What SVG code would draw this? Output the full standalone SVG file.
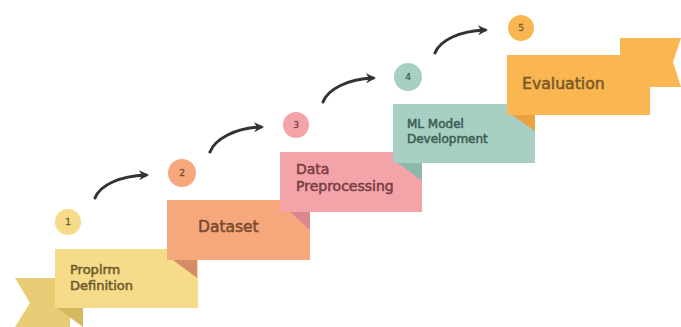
<svg xmlns="http://www.w3.org/2000/svg" width="681" height="327" viewBox="0 0 681 327">
<defs>
<marker id="ah" viewBox="0 0 10 10" refX="7" refY="5" markerWidth="10" markerHeight="10" markerUnits="userSpaceOnUse" orient="auto">
<path d="M0,0 L10,5 L0,10 L3,5 z" fill="#333"/>
</marker>
<style>
.lbl{font-family:"DejaVu Sans","Liberation Sans",sans-serif;stroke-width:0.55}
.num{font-family:"DejaVu Sans","Liberation Sans",sans-serif;font-size:9px;text-anchor:middle;stroke-width:0.3}
.arr{fill:none;stroke:#333;stroke-width:3;stroke-linecap:round}
</style>
</defs>
<rect width="681" height="327" fill="#fff"/>
<g id="step1">
<polygon points="15,278 70,278 70,327 15,327 30,303" fill="#E9CC76"/>
<rect x="55" y="249" width="143" height="59" fill="#F6DC8A"/>
<polygon points="57,308 83,308 83,327" fill="#D6B762"/>
<circle cx="68" cy="222" r="13" fill="#F6DC8A"/>
<text class="num" x="68" y="225" fill="#6E5B2B" stroke="#6E5B2B">1</text>
<text class="lbl" x="70" y="274" font-size="13" fill="#6E5B2B" stroke="#6E5B2B">Proplrm</text>
<text class="lbl" x="70" y="289.5" font-size="13" fill="#6E5B2B" stroke="#6E5B2B">Definition</text>
</g>
<g id="step2">
<rect x="167" y="200" width="143" height="60" fill="#F6A87C"/>
<polygon points="173,260 197,260 197,278" fill="#D68C66"/>
<circle cx="182" cy="173" r="14" fill="#F6A87C"/>
<text class="num" x="182" y="176" fill="#7A4B33" stroke="#7A4B33">2</text>
<text class="lbl" x="198" y="232" font-size="15.5" fill="#7A4B33" stroke="#7A4B33">Dataset</text>
</g>
<g id="step3">
<rect x="280" y="152" width="142" height="60" fill="#F4A3A8"/>
<polygon points="290,212 310,212 310,230" fill="#D9868F"/>
<circle cx="296" cy="125" r="13" fill="#F4A3A8"/>
<text class="num" x="296" y="128" fill="#7A3F45" stroke="#7A3F45">3</text>
<text class="lbl" x="296" y="173.5" font-size="14" fill="#7A3F45" stroke="#7A3F45">Data</text>
<text class="lbl" x="296" y="190.5" font-size="14" fill="#7A3F45" stroke="#7A3F45">Preprocessing</text>
</g>
<g id="step4">
<rect x="393" y="104" width="142" height="59" fill="#A8CFC4"/>
<polygon points="398,163 422,163 422,181" fill="#8DB8AC"/>
<circle cx="408" cy="77" r="14" fill="#A8CFC4"/>
<text class="num" x="408" y="80" fill="#3F5E55" stroke="#3F5E55">4</text>
<text class="lbl" x="407" y="128" font-size="12" fill="#3F5E55" stroke="#3F5E55">ML Model</text>
<text class="lbl" x="407" y="142.5" font-size="12" fill="#3F5E55" stroke="#3F5E55">Development</text>
</g>
<g id="step5">
<polygon points="620,38 681,38 673,62 681,87 620,87" fill="#F9B651"/>
<rect x="507" y="55" width="143" height="60" fill="#F9B651"/>
<polygon points="512,115 535,115 535,131" fill="#E9A23F"/>
<circle cx="521" cy="28" r="13" fill="#F9B651"/>
<text class="num" x="521" y="31" fill="#7A5A25" stroke="#7A5A25">5</text>
<text class="lbl" x="522" y="89" font-size="15.7" fill="#7A5A25" stroke="#7A5A25">Evaluation</text>
</g>
<g id="connectors">
<path class="arr" d="M95,198 C100,185 120,176 146,175" marker-end="url(#ah)"/>
<path class="arr" d="M210,152 C215,139 235,128 261,127" marker-end="url(#ah)"/>
<path class="arr" d="M323,102 C328,89 348,79 373,78" marker-end="url(#ah)"/>
<path class="arr" d="M435,53 C440,40 460,31 485,30" marker-end="url(#ah)"/>
</g>
</svg>
